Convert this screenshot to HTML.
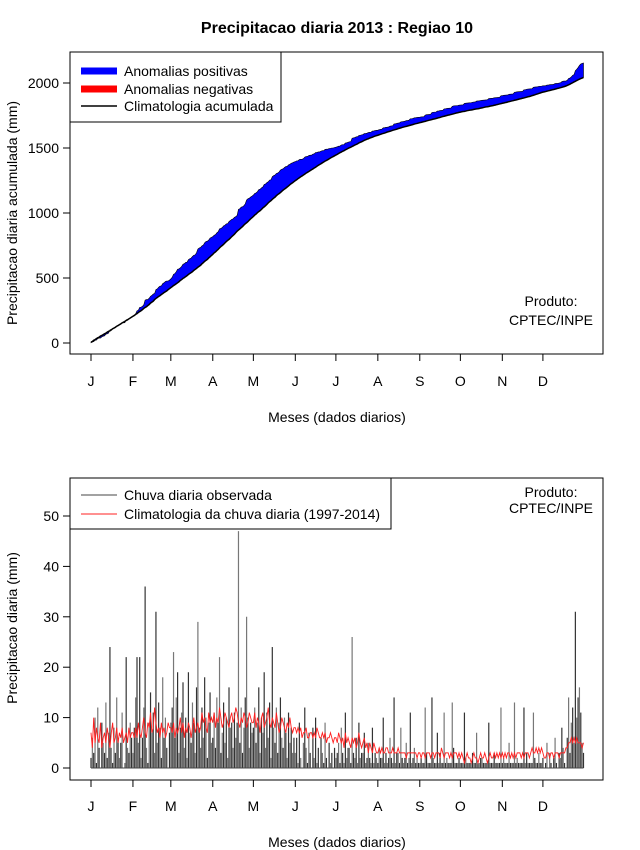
<!DOCTYPE html>
<html><head><meta charset="utf-8"><style>
body{margin:0;background:#fff}
svg{display:block;font-family:"Liberation Sans",sans-serif}
</style></head><body>
<svg id="c" width="640" height="850" xmlns="http://www.w3.org/2000/svg">
<text x="337" y="33" font-size="16" font-weight="bold" text-anchor="middle">Precipitacao diaria 2013 : Regiao 10</text>
<g id="topPanel"></g>
<g id="botPanel"></g>
</svg>
<script>
const monthLabels=["J","F","M","A","M","J","J","A","S","O","N","D"];
const monthStartDays=[0,31,59,90,120,151,181,212,243,273,304,334];
const cumTicks=[0,500,1000,1500,2000];
const dailyTicks=[0,10,20,30,40,50];
const observed=[
2,6,3,10,1,12,4,0,9,5,3,13,2,7,24,4,1,8,3,14,6,2,5,11,0,1,22,4,3,9,6,
3,8,14,22,5,22,2,6,12,36,4,1,9,15,7,11,3,31,5,13,8,2,18,6,10,4,0,7,
9,12,23,6,14,19,3,8,11,17,4,10,2,19,7,5,13,9,3,16,29,8,4,12,6,18,10,2,9,15,5,
6,11,4,14,9,22,3,7,13,5,10,2,16,8,9,4,11,6,9,47,5,12,3,8,14,30,10,4,9,7,
8,12,5,9,16,3,10,7,19,4,11,6,13,2,24,8,5,12,3,9,14,6,4,10,7,2,11,5,8,3,6,
3,6,1,9,2,0,5,12,4,1,7,3,0,8,2,10,1,4,0,6,3,1,9,2,0,5,1,3,0,4,
2,3,5,1,8,3,1,11,2,4,4,1,26,3,2,6,1,9,2,3,3,7,1,2,5,2,1,8,1,3,2,
1,4,2,2,10,1,3,1,2,6,2,1,14,1,3,3,1,8,2,1,2,5,1,2,11,1,2,4,1,2,1,
1,2,1,1,12,3,1,1,1,14,2,1,1,7,1,3,1,1,11,1,2,1,1,1,13,4,1,1,1,2,
1,1,1,11,2,1,1,1,1,3,1,1,7,1,1,2,2,1,1,1,1,9,1,1,1,3,1,1,1,1,12,
1,2,1,1,1,5,1,1,1,13,1,2,1,1,1,1,12,1,3,1,1,1,1,11,2,1,1,3,1,1,
2,0,1,5,0,3,1,0,2,6,1,0,3,2,8,4,1,0,6,14,3,9,12,5,31,10,14,16,11,5,3];
const climatology=[
7,4,10,5,8,6,5,9,4,6,7,5,8,6,4,7,9,5,6,8,5,7,6,8,5,6,7,5,8,6,7,
7,6,8,6,9,7,6,8,10,7,6,9,8,11,7,8,12,9,7,8,6,9,7,8,6,7,9,8,
8,7,9,6,8,7,8,10,7,9,6,8,7,9,8,6,8,10,7,8,9,7,8,11,9,10,8,7,11,9,10,
9,11,8,10,9,12,10,8,9,11,10,9,8,10,11,9,10,12,11,9,8,10,9,11,10,8,9,11,10,9,
9,11,8,10,9,7,10,11,8,9,10,12,9,8,10,9,8,11,9,7,8,10,9,8,7,9,8,10,8,7,8,
8,7,8,7,8,6,7,7,8,6,6,7,7,6,7,6,8,7,6,6,7,6,7,5,6,6,7,6,5,6,
6,5,7,6,5,6,4,7,5,6,5,4,6,5,6,4,5,7,5,4,5,6,4,5,3,5,4,3,5,4,3,
3,4,3,4,3,3,4,4,3,3,3,4,3,3,3,4,3,3,3,3,3,2,3,3,3,3,3,3,3,2,3,
3,2,3,3,2,3,3,3,2,3,3,2,3,3,3,2,4,3,2,3,3,3,2,3,2,3,3,3,2,3,
2,3,2,1,2,3,2,2,1,2,3,2,2,1,2,3,2,2,3,2,1,2,3,2,2,3,2,3,2,3,2,
3,2,3,2,3,3,2,3,2,3,2,3,3,3,2,3,2,3,3,3,2,3,4,3,3,4,3,4,3,4,
3,2,2,3,3,2,3,3,2,3,3,3,2,3,3,3,3,4,4,5,5,6,5,6,5,6,5,5,5,4,5];

const NS="http://www.w3.org/2000/svg";
function mk(p,t,a){const e=document.createElementNS(NS,t);for(const k in a)e.setAttribute(k,a[k]);p.appendChild(e);return e;}
const xDay=d=>91+d*1.353;
const yTop=v=>343-v*0.13;
const yBot=v=>768-v*5.04;

function axes(g,y0,y1,ticks,yf,xlabY,ytitle,ytitleY){
  const box=mk(g,'rect',{x:70,y:y0,width:533,height:y1-y0,fill:'none',stroke:'#000'});
  
  
  monthStartDays.forEach((d,i)=>{
    const x=xDay(d);
    const t=mk(g,'line',{x1:x,x2:x,y1:y1,y2:y1+7,stroke:'#000'});
    
    
    const l=mk(g,'text',{x:x,y:xlabY,'font-size':14,'text-anchor':'middle'});
    l.textContent=monthLabels[i];
    
    
  });
  const xa=mk(g,'line',{x1:xDay(0),x2:xDay(334),y1:y1,y2:y1,stroke:'#000'});
  
  
  ticks.forEach(v=>{
    const y=yf(v);
    const t=mk(g,'line',{x1:63,x2:70,y1:y,y2:y,stroke:'#000'});
    
    
    const l=mk(g,'text',{x:59,y:y+5,'font-size':14,'text-anchor':'end'});
    l.textContent=v;
    
    
  });
  const xt=mk(g,'text',{x:337,y:xlabY+36,'font-size':14,'text-anchor':'middle'});
  xt.textContent='Meses (dados diarios)';
  
  
  const yt=mk(g,'text',{x:0,y:0,'font-size':14,'text-anchor':'middle',transform:`translate(17,${ytitleY}) rotate(-90)`});
  yt.textContent=ytitle;
  
  
}

// top panel
const topG=document.getElementById('topPanel');
axes(topG,52,354,cumTicks,yTop,386,'Precipitacao diaria acumulada (mm)',213);
let co=0,cc=0;const cumObs=[],cumClim=[];
observed.forEach((v,i)=>{co+=v;cc+=climatology[i];cumObs.push(co);cumClim.push(cc);});
let poly='';
cumObs.forEach((v,i)=>poly+=`${xDay(i)},${yTop(v)} `);
for(let i=cumClim.length-1;i>=0;i--)poly+=`${xDay(i)},${yTop(cumClim[i])} `;
const band=mk(topG,'polygon',{points:poly,fill:'#0000ff',stroke:'#000','stroke-width':0.6});


const cl=mk(topG,'polyline',{points:cumClim.map((v,i)=>`${xDay(i)},${yTop(v)}`).join(' '),fill:'none',stroke:'#000','stroke-width':1.5});



// bottom panel
const botG=document.getElementById('botPanel');
axes(botG,478,780,dailyTicks,yBot,811,'Precipitacao diaria (mm)',628);
observed.forEach((v,i)=>{
  const x=xDay(i);
  const b=mk(botG,'line',{x1:x,x2:x,y1:yBot(0),y2:yBot(v),stroke:i%2?'#777':'#333','stroke-width':1.2});
  
  
});
const base=mk(botG,'line',{x1:xDay(0),x2:xDay(364),y1:yBot(0),y2:yBot(0),stroke:'#444','stroke-width':1});


const rl=mk(botG,'polyline',{points:climatology.map((v,i)=>`${xDay(i)},${yBot(v)}`).join(' '),fill:'none',stroke:'#ff2020','stroke-width':0.9});


</script>
<div style="position:absolute;left:0;top:0;width:640px;height:850px;pointer-events:none">
<svg width="640" height="850" xmlns="http://www.w3.org/2000/svg" style="font-family:'Liberation Sans',sans-serif">
<g>
<rect x="70" y="52" width="211" height="70" fill="#fff" stroke="#000"/>
<line x1="81" x2="117" y1="71" y2="71" stroke="#0000ff" stroke-width="7"/>
<text x="124" y="76" font-size="14">Anomalias positivas</text>
<line x1="81" x2="117" y1="89" y2="89" stroke="#ff0000" stroke-width="7"/>
<text x="124" y="94" font-size="14">Anomalias negativas</text>
<line x1="81" x2="117" y1="106" y2="106" stroke="#000" stroke-width="1.5"/>
<text x="124" y="111" font-size="14">Climatologia acumulada</text>
</g>
<text x="551" y="306" font-size="14" text-anchor="middle">Produto:</text>
<text x="551" y="325" font-size="14" text-anchor="middle">CPTEC/INPE</text>
<g>
<rect x="70" y="478" width="321" height="51" fill="#fff" stroke="#000"/>
<line x1="81" x2="117" y1="495" y2="495" stroke="#444" stroke-width="1"/>
<text x="124" y="500" font-size="14">Chuva diaria observada</text>
<line x1="81" x2="117" y1="514" y2="514" stroke="#ff2020" stroke-width="1"/>
<text x="124" y="519" font-size="14">Climatologia da chuva diaria (1997-2014)</text>
</g>
<text x="551" y="497" font-size="14" text-anchor="middle">Produto:</text>
<text x="551" y="513" font-size="14" text-anchor="middle">CPTEC/INPE</text>
</svg></div>
</body></html>
